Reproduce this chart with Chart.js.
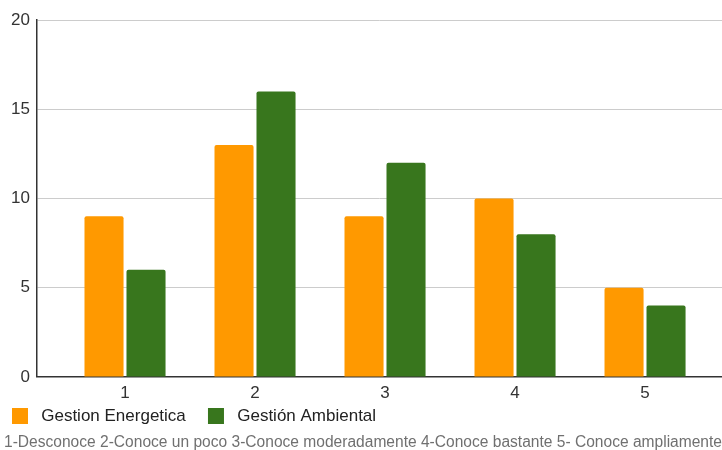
<!DOCTYPE html>
<html>
<head>
<meta charset="utf-8">
<script src="https://cdn.jsdelivr.net/npm/chart.js@4"></script>
<style>
html,body{margin:0;padding:0;background:#fff;}
#wrap{width:722px;height:450px;}
</style>
</head>
<body>
<div id="wrap"><canvas id="c" width="722" height="450"></canvas></div>
<script>
const categories = ['1', '2', '3', '4', '5'];
const seriesNames = ['Gestion Energetica', 'Gestión Ambiental'];
const energetica = [9, 13, 9, 10, 5];
const ambiental = [6, 16, 12, 8, 4];
const yTicks = [0, 5, 10, 15, 20];
const caption = '1-Desconoce 2-Conoce un poco 3-Conoce moderadamente 4-Conoce bastante 5- Conoce ampliamente';

const toPoints = arr => arr.map((v, i) => ({x: i + 1, y: v}));
const FONT = 'Arial, "Liberation Sans", sans-serif';

new Chart(document.getElementById('c'), {
  type: 'bar',
  data: {
    datasets: [
      {label: seriesNames[0], data: toPoints(energetica), backgroundColor: '#ff9900', borderRadius: 2, borderSkipped: 'bottom', categoryPercentage: 0.646, barPercentage: 0.93},
      {label: seriesNames[1], data: toPoints(ambiental), backgroundColor: '#38761d', borderRadius: 2, borderSkipped: 'bottom', categoryPercentage: 0.646, barPercentage: 0.93}
    ]
  },
  options: {
    responsive: false,
    animation: false,
    layout: {padding: {left: 4, right: 0, top: 20, bottom: 0}},
    plugins: {
      tooltip: {enabled: false},
      legend: {
        position: 'bottom',
        align: 'start',
        labels: {
          boxWidth: 16, boxHeight: 16, padding: 8, color: '#222',
          font: {family: FONT, size: 17, lineHeight: 1.0},
          generateLabels: chart => Chart.defaults.plugins.legend.labels.generateLabels(chart).map(l => ({...l, text: ' ' + l.text + '   '}))
        }
      },
      subtitle: {
        display: true,
        text: caption,
        position: 'bottom',
        align: 'start',
        color: '#707070',
        font: {family: FONT, size: 15.6, weight: 'normal', lineHeight: 1.0},
        padding: {top: 0, bottom: 0}
      }
    },
    scales: {
      x: {
        type: 'linear',
        min: 0.323,
        max: 5.592,
        offset: false,
        afterBuildTicks: s => { s.ticks = categories.map((c, i) => ({value: i + 1})); },
        afterFit: s => { s.height = 22.5; },
        ticks: {
          callback: (v) => categories[Math.round(v) - 1],
          color: '#333',
          font: {family: FONT, size: 17},
          padding: 6,
          maxRotation: 0,
          autoSkip: false
        },
        grid: {display: false, drawTicks: false},
        border: {display: true, color: '#333', width: 1.5}
      },
      y: {
        min: 0,
        max: 20,
        afterBuildTicks: s => { s.ticks = yTicks.map(v => ({value: v})); },
        afterFit: s => { s.width = 33; },
        ticks: {color: '#333', font: {family: FONT, size: 17}, padding: 7},
        grid: {color: '#cccccc', lineWidth: 1, drawTicks: false},
        border: {display: true, color: '#333', width: 1.5}
      }
    }
  }
});
</script>
</body>
</html>
